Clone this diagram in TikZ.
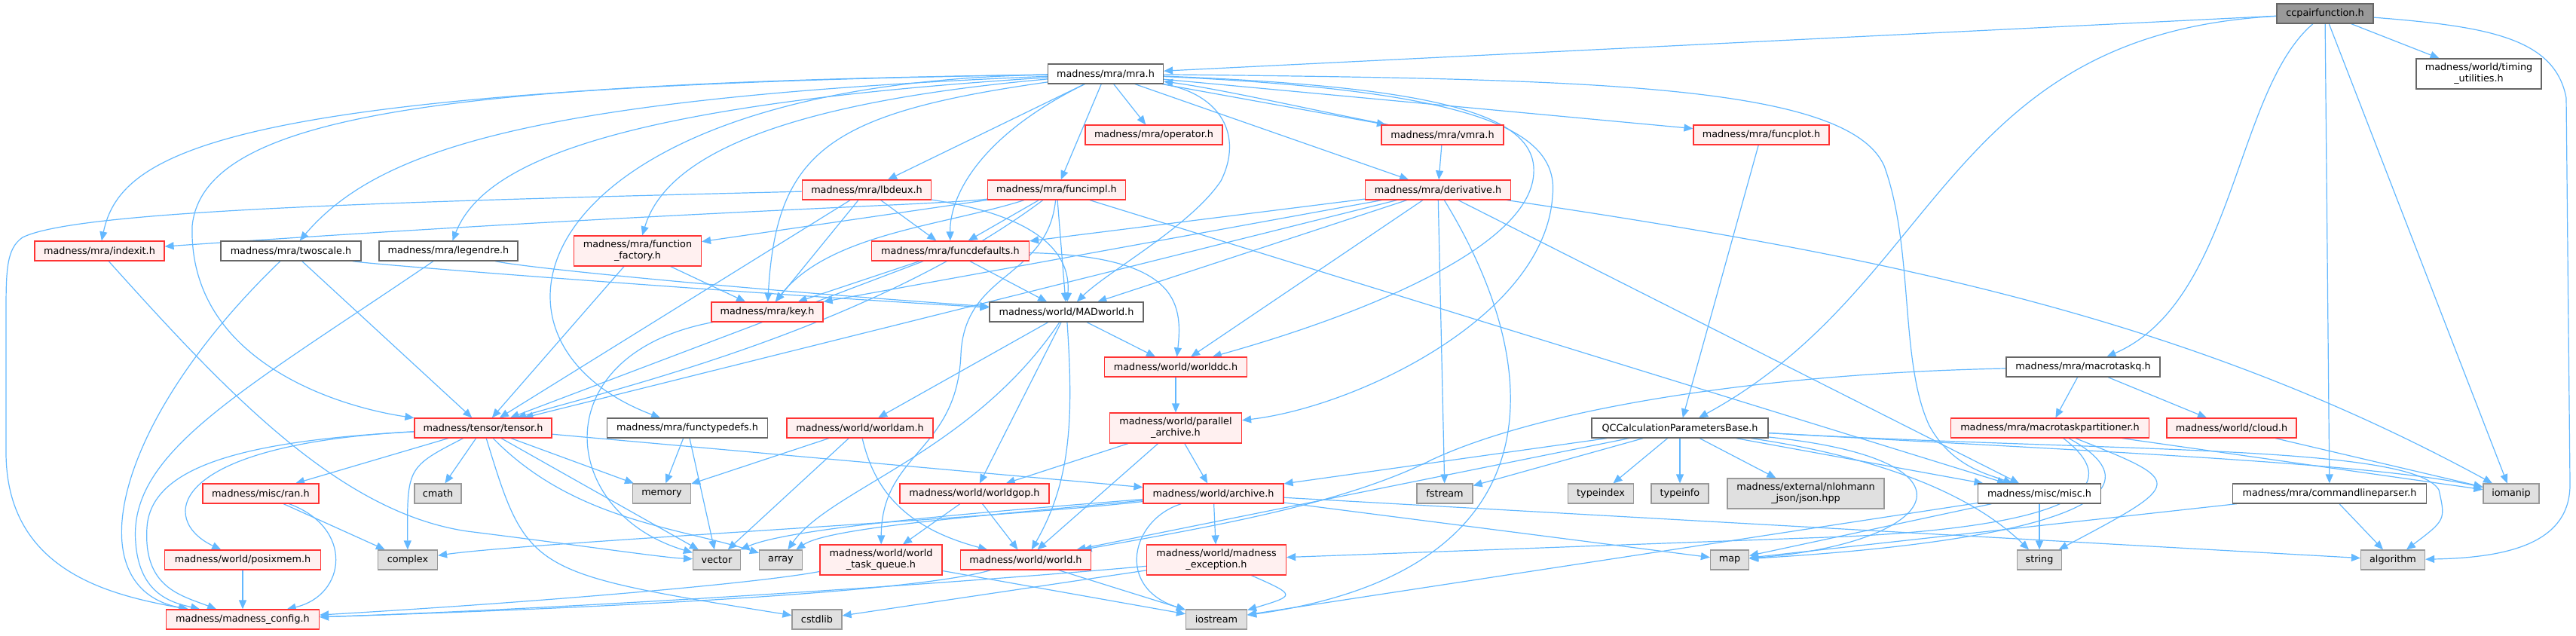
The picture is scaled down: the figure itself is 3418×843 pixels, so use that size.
\documentclass[tikz,border=0pt]{standalone}
\usepackage{fontspec}
\setmainfont{DejaVu Sans}
\usetikzlibrary{arrows.meta}
\definecolor{ecol}{HTML}{63B8FF}
\definecolor{rbord}{HTML}{FF3333}
\definecolor{rfill}{HTML}{FFF0F0}
\definecolor{wbord}{HTML}{666666}
\definecolor{gbord}{HTML}{999999}
\definecolor{gfill}{HTML}{E0E0E0}
\definecolor{rootfill}{HTML}{999999}
\pgfdeclarelayer{bg}
\pgfsetlayers{bg,main}
\tikzset{
  nb/.style={draw, line width=0.6pt, font=\fontsize{6.4}{7.4}\selectfont, inner sep=0pt, minimum height=13pt, align=center},
  rn/.style={nb, draw=rbord, fill=rfill},
  wn/.style={nb, draw=wbord, fill=white},
  gn/.style={nb, draw=gbord, fill=gfill},
  rootn/.style={nb, draw=wbord, fill=rootfill},
  two/.style={minimum height=20pt},
  wd/.style={minimum width=#1*0.5pt},
  ed/.style={draw=ecol, line width=0.6pt, -{Triangle[length=6pt,width=5pt]}}
}
\begin{document}
\begin{tikzpicture}[x=0.5pt,y=-0.5pt]
\useasboundingbox (0,0) rectangle (3418,843);
% rank 0-1
\node[rootn, wd=128] (ccpair) at (3085,18) {ccpairfunction.h};
\node[wn, wd=153] (mra) at (1467,98) {madness/mra/mra.h};
\node[wn, wd=166, two] (timing) at (3289,98) {madness/world/timing\\\_utilities.h};
% rank 2
\node[rn, wd=182] (operator) at (1531,179) {madness/mra/operator.h};
\node[rn, wd=162] (vmra) at (1914,179) {madness/mra/vmra.h};
\node[rn, wd=180] (funcplot) at (2337,179) {madness/mra/funcplot.h};
% rank 3
\node[rn, wd=171] (lbdeux) at (1150,252) {madness/mra/lbdeux.h};
\node[rn, wd=183] (funcimpl) at (1402,252) {madness/mra/funcimpl.h};
\node[rn, wd=193] (derivative) at (1908,252) {madness/mra/derivative.h};
% rank 4
\node[rn, wd=172] (indexit) at (132,333) {madness/mra/indexit.h};
\node[wn, wd=186] (twoscale) at (386,333) {madness/mra/twoscale.h};
\node[wn, wd=184] (legendre) at (595,333) {madness/mra/legendre.h};
\node[rn, wd=169, two] (funcfactory) at (846,333) {madness/mra/function\\\_factory.h};
\node[rn, wd=209] (funcdefaults) at (1261,333) {madness/mra/funcdefaults.h};
% rank 5
\node[rn, wd=148] (key) at (1018,414) {madness/mra/key.h};
\node[wn, wd=204] (madworld) at (1415,414) {madness/world/MADworld.h};
% rank 6
\node[rn, wd=189] (worlddc) at (1560,487) {madness/world/worlddc.h};
\node[wn, wd=204] (macrotaskq) at (2764,487) {madness/mra/macrotaskq.h};
% rank 7
\node[rn, wd=182] (tensor) at (641,568) {madness/tensor/tensor.h};
\node[wn, wd=213] (functypedefs) at (912,568) {madness/mra/functypedefs.h};
\node[rn, wd=194] (worldam) at (1141,568) {madness/world/worldam.h};
\node[rn, wd=175, two] (parallel) at (1560,568) {madness/world/parallel\\\_archive.h};
\node[wn, wd=234] (qccalc) at (2229,568) {QCCalculationParametersBase.h};
\node[rn, wd=263] (mtpart) at (2720,568) {madness/mra/macrotaskpartitioner.h};
\node[rn, wd=172] (cloud) at (2961,568) {madness/world/cloud.h};
% rank 8
\node[rn, wd=154] (ran) at (346,655) {madness/misc/ran.h};
\node[gn, wd=62] (cmath) at (581,655) {cmath};
\node[gn, wd=77] (memory) at (878,655) {memory};
\node[rn, wd=198] (worldgop) at (1293,655) {madness/world/worldgop.h};
\node[rn, wd=186] (archive) at (1610,655) {madness/world/archive.h};
\node[gn, wd=74] (fstream) at (1917,655) {fstream};
\node[gn, wd=87] (typeindex) at (2124,655) {typeindex};
\node[gn, wd=76] (typeinfo) at (2229,655) {typeinfo};
\node[gn, wd=208, two] (json) at (2396,655) {madness/external/nlohmann\\\_json/json.hpp};
\node[wn, wd=163] (misc) at (2706,655) {madness/misc/misc.h};
\node[wn, wd=257] (cmdline) at (3091,655) {madness/mra/commandlineparser.h};
\node[gn, wd=74] (iomanip) at (3332,655) {iomanip};
% rank 9
\node[rn, wd=207] (posixmem) at (322,743) {madness/world/posixmem.h};
\node[gn, wd=79] (complex) at (541,743) {complex};
\node[gn, wd=63] (vector) at (951,743) {vector};
\node[gn, wd=57] (array) at (1036,743) {array};
\node[rn, wd=162, two] (taskq) at (1169,743) {madness/world/world\\\_task\_queue.h};
\node[rn, wd=173] (world) at (1361,743) {madness/world/world.h};
\node[rn, wd=185, two] (exception) at (1614,743) {madness/world/madness\\\_exception.h};
\node[gn, wd=51] (map) at (2295,743) {map};
\node[gn, wd=59] (string) at (2706,743) {string};
\node[gn, wd=85] (algorithm) at (3175,743) {algorithm};
% rank 10
\node[rn, wd=203] (config) at (322,822) {madness/madness\_config.h};
\node[gn, wd=66] (cstdlib) at (1084,822) {cstdlib};
\node[gn, wd=81] (iostream) at (1614,822) {iostream};

\begin{pgfonlayer}{bg}
% ccpairfunction.h
\draw[ed] (ccpair) -- (mra);
\draw[ed] (ccpair) -- (timing);
\draw[ed] (ccpair) .. controls (2580,45) and (2575,380) .. (qccalc);
\draw[ed] (ccpair) .. controls (2965,120) and (2965,400) .. (macrotaskq);
\draw[ed] (ccpair) -- (cmdline);
\draw[ed] (ccpair) -- (iomanip);
\draw[ed] (ccpair) .. controls (3300,35) and (3390,50) .. (3405,130) -- (3410,640) .. controls (3412,720) and (3330,740) .. (algorithm);
% mra.h
\draw[ed] (mra) -- (operator);
\draw[ed] (mra) -- (vmra);
\draw[ed] (mra) -- (funcplot);
\draw[ed] (mra) -- (lbdeux);
\draw[ed] (mra) -- (funcimpl);
\draw[ed] (mra) -- (derivative);
\draw[ed] (mra) .. controls (300,115) and (160,200) .. (indexit);
\draw[ed] (mra) .. controls (700,130) and (500,200) .. (twoscale);
\draw[ed] (mra) .. controls (800,140) and (640,220) .. (legendre);
\draw[ed] (mra) .. controls (1000,140) and (880,220) .. (funcfactory);
\draw[ed] (mra) .. controls (1300,180) and (1260,260) .. (funcdefaults);
\draw[ed] (mra) .. controls (1100,150) and (1030,200) .. (key);
\draw[ed] (mra) .. controls (1620,125) and (1650,180) .. (1620,240) .. controls (1580,300) and (1470,360) .. (madworld);
\draw[ed] (mra) .. controls (1900,115) and (2040,150) .. (2035,230) .. controls (2030,330) and (1800,420) .. (worlddc);
\draw[ed] (mra) .. controls (600,110) and (270,150) .. (255,300) .. controls (250,480) and (450,540) .. (tensor);
\draw[ed] (mra) .. controls (700,110) and (600,450) .. (functypedefs);
\draw[ed] (mra) .. controls (1950,120) and (2070,170) .. (2060,260) .. controls (2050,420) and (1800,540) .. (parallel);
\draw[ed] (mra) .. controls (2100,105) and (2450,110) .. (2500,220) .. controls (2540,330) and (2520,480) .. (2560,565) .. controls (2590,620) and (2640,630) .. (misc);
\draw[ed] (vmra) .. controls (1760,150) and (1620,118) .. (mra);
\draw[ed] (vmra) -- (derivative);
\draw[ed] (funcplot) -- (qccalc);
% lbdeux.h
\draw[ed] (lbdeux) .. controls (500,268) and (100,280) .. (30,315) .. controls (8,330) and (8,360) .. (8,420) -- (8,600) .. controls (8,760) and (150,790) .. (config);
\draw[ed] (lbdeux) -- (key);
\draw[ed] (lbdeux) -- (funcdefaults);
\draw[ed] (lbdeux) .. controls (1400,290) and (1420,350) .. (madworld);
\draw[ed] (lbdeux) -- (tensor);
% funcimpl.h
\draw[ed] (funcimpl) .. controls (1250,272) and (900,280) .. (indexit);
\draw[ed] (funcimpl) -- (funcfactory);
\draw[ed] (funcimpl) -- (funcdefaults);
\draw[ed] (funcimpl) .. controls (1250,300) and (1100,310) .. (key);
\draw[ed] (funcimpl) -- (madworld);
\draw[ed] (funcimpl) .. controls (1150,440) and (800,520) .. (tensor);
\draw[ed] (funcimpl) -- (misc);
\draw[ed] (funcimpl) .. controls (1390,370) and (1280,360) .. (1275,470) .. controls (1270,600) and (1170,600) .. (taskq);
% derivative.h
\draw[ed] (derivative) -- (funcdefaults);
\draw[ed] (derivative) -- (key);
\draw[ed] (derivative) -- (madworld);
\draw[ed] (derivative) -- (worlddc);
\draw[ed] (derivative) -- (tensor);
\draw[ed] (derivative) -- (misc);
\draw[ed] (derivative) -- (fstream);
\draw[ed] (derivative) .. controls (2060,500) and (2060,760) .. (iostream);
\draw[ed] (derivative) .. controls (2500,340) and (2900,420) .. (iomanip);
% rank 4
\draw[ed] (indexit) .. controls (300,520) and (450,680) .. (620,705) .. controls (780,725) and (880,740) .. (vector);
\draw[ed] (twoscale) -- (tensor);
\draw[ed] (twoscale) .. controls (150,560) and (100,780) .. (config);
\draw[ed] (twoscale) .. controls (500,352) and (1000,390) .. (madworld);
\draw[ed] (legendre) .. controls (320,520) and (170,600) .. (180,720) .. controls (185,790) and (230,800) .. (config);
\draw[ed] (legendre) .. controls (700,356) and (1000,385) .. (madworld);
\draw[ed] (funcfactory) -- (tensor);
\draw[ed] (funcfactory) -- (key);
\draw[ed] (funcdefaults) -- (key);
\draw[ed] (funcdefaults) -- (madworld);
\draw[ed] (funcdefaults) .. controls (1560,340) and (1570,400) .. (worlddc);
\draw[ed] (funcdefaults) -- (tensor);
\draw[ed] (key) .. controls (720,470) and (740,680) .. (vector);
% MADworld.h and friends
\draw[ed] (madworld) -- (worldam);
\draw[ed] (madworld) -- (worldgop);
\draw[ed] (madworld) .. controls (1425,560) and (1420,640) .. (world);
\draw[ed] (madworld) -- (worlddc);
\draw[ed] (madworld) .. controls (1290,600) and (1100,650) .. (array);
\draw[ed] (worlddc) -- (parallel);
\draw[ed] (parallel) -- (worldgop);
\draw[ed] (parallel) -- (archive);
\draw[ed] (parallel) -- (world);
\draw[ed] (worldam) -- (memory);
\draw[ed] (worldam) -- (vector);
\draw[ed] (worldam) .. controls (1160,650) and (1200,700) .. (world);
\draw[ed] (functypedefs) -- (memory);
\draw[ed] (functypedefs) -- (vector);
% tensor.h
\draw[ed] (tensor) -- (ran);
\draw[ed] (tensor) -- (cmath);
\draw[ed] (tensor) .. controls (540,620) .. (complex);
\draw[ed] (tensor) -- (memory);
\draw[ed] (tensor) .. controls (220,590) and (210,690) .. (posixmem);
\draw[ed] (tensor) .. controls (320,585) and (200,620) .. (195,700) .. controls (190,780) and (240,790) .. (config);
\draw[ed] (tensor) -- (archive);
\draw[ed] (tensor) -- (vector);
\draw[ed] (tensor) .. controls (760,690) and (900,700) .. (array);
\draw[ed] (tensor) .. controls (700,760) .. (cstdlib);
\draw[ed] (ran) -- (complex);
\draw[ed] (ran) .. controls (470,700) and (460,790) .. (config);
\draw[ed] (posixmem) -- (config);
\draw[ed] (worldgop) -- (taskq);
\draw[ed] (worldgop) -- (world);
% archive.h
\draw[ed] (archive) .. controls (1300,680) and (1050,700) .. (vector);
\draw[ed] (archive) .. controls (1300,685) and (1100,700) .. (array);
\draw[ed] (archive) .. controls (1300,690) and (700,720) .. (complex);
\draw[ed] (archive) -- (exception);
\draw[ed] (archive) .. controls (1500,690) and (1480,780) .. (iostream);
\draw[ed] (archive) -- (map);
\draw[ed] (archive) -- (algorithm);
\draw[ed] (taskq) .. controls (1000,775) and (700,800) .. (config);
\draw[ed] (taskq) -- (iostream);
\draw[ed] (world) .. controls (1200,790) and (700,810) .. (config);
\draw[ed] (world) -- (iostream);
\draw[ed] (exception) .. controls (1200,780) and (700,810) .. (config);
\draw[ed] (exception) -- (cstdlib);
\draw[ed] (exception) .. controls (1720,790) .. (iostream);
% right part
\draw[ed] (misc) -- (string);
\draw[ed] (misc) -- (iostream);
\draw[ed] (misc) -- (map);
\draw[ed] (mtpart) .. controls (2900,640) .. (string);
\draw[ed] (mtpart) -- (iomanip);
\draw[ed] (mtpart) .. controls (2870,650) and (2760,715) .. (map);
\draw[ed] (mtpart) .. controls (2840,660) and (2700,700) .. (2450,712) -- (exception);
\draw[ed] (cloud) -- (iomanip);
\draw[ed] (macrotaskq) -- (mtpart);
\draw[ed] (macrotaskq) -- (cloud);
\draw[ed] (macrotaskq) .. controls (2350,495) and (2050,540) .. (1900,610) .. controls (1780,670) and (1600,700) .. (world);
\draw[ed] (cmdline) -- (algorithm);
\draw[ed] (cmdline) -- (map);
% QCCalculationParametersBase.h
\draw[ed] (qccalc) -- (archive);
\draw[ed] (qccalc) -- (fstream);
\draw[ed] (qccalc) -- (typeindex);
\draw[ed] (qccalc) -- (typeinfo);
\draw[ed] (qccalc) -- (json);
\draw[ed] (qccalc) .. controls (2640,610) and (2580,720) .. (map);
\draw[ed] (qccalc) -- (world);
\draw[ed] (qccalc) -- (misc);
\draw[ed] (qccalc) .. controls (2450,600) and (2600,640) .. (string);
\draw[ed] (qccalc) .. controls (2800,600) and (3150,615) .. (iomanip);
\draw[ed] (qccalc) .. controls (2800,600) and (3200,590) .. (3236,650) .. controls (3245,690) .. (algorithm);
\end{pgfonlayer}
\end{tikzpicture}
\end{document}
